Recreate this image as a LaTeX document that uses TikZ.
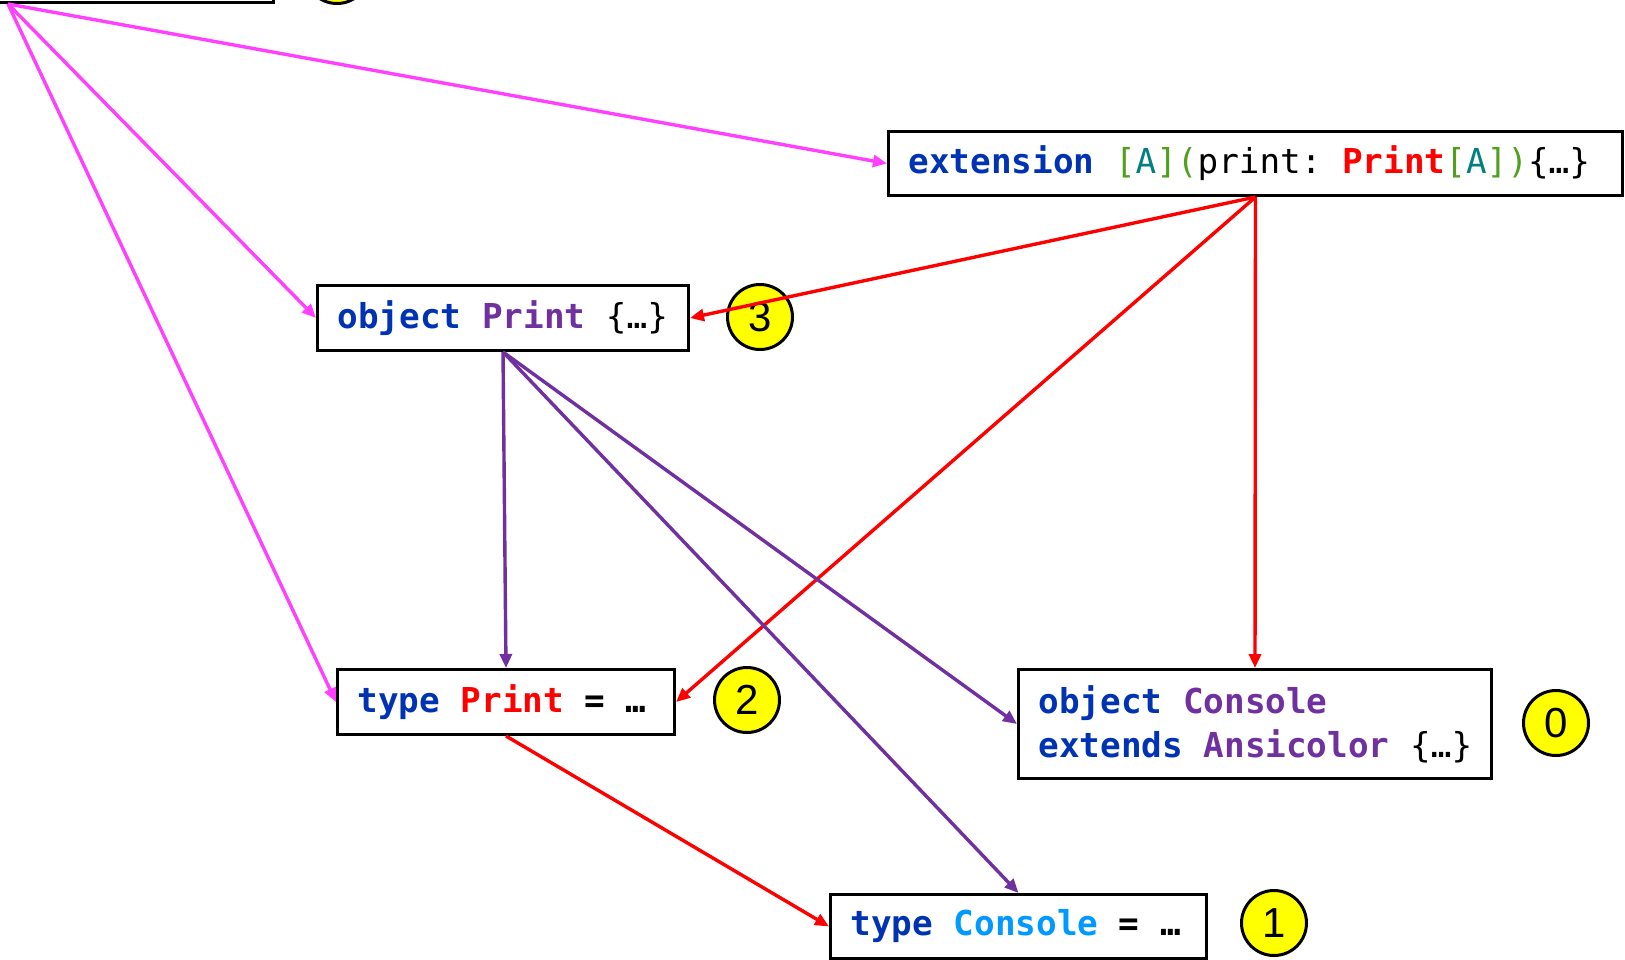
\documentclass[tikz,border=0pt]{standalone}
\usepackage{fontspec}
\usetikzlibrary{arrows.meta}
\newfontfamily\codefont{DejaVu Sans Mono}
\newfontfamily\numfont{Liberation Sans}

\definecolor{kwblue}{RGB}{0,51,179}
\definecolor{objpurple}{RGB}{112,48,160}
\definecolor{tred}{RGB}{255,0,0}
\definecolor{brgreen}{RGB}{80,160,30}
\definecolor{tparam}{RGB}{0,128,128}
\definecolor{conblue}{RGB}{0,153,255}
\definecolor{linkpink}{RGB}{255,64,255}
\definecolor{badge}{RGB}{255,255,0}

\newcommand{\kw}[1]{\textcolor{kwblue}{\bfseries #1}}
\newcommand{\obj}[1]{\textcolor{objpurple}{\bfseries #1}}
\newcommand{\tname}[1]{\textcolor{tred}{\bfseries #1}}
% one monospace cell of blank space
\newcommand{\sk}{\hspace*{0.602em}}

\tikzset{
  codebox/.style={draw, line width=3pt, fill=white, rectangle, anchor=north west,
    inner xsep=20pt, inner ysep=0pt, align=left,
    font=\codefont\fontsize{34.3}{44}\selectfont},
  badgenode/.style={circle, draw, line width=3pt, fill=badge, minimum size=65pt,
    inner sep=0pt, font=\numfont\fontsize{42}{42}\selectfont},
  link/.style={line width=3.4pt, -{Triangle[length=14pt,width=12pt]}},
  pinklink/.style={link, draw=linkpink, fill=linkpink},
  redlink/.style={link, draw=tred, fill=tred},
  purplelink/.style={link, draw=objpurple, fill=objpurple}
}

\begin{document}
\begin{tikzpicture}[x=1pt,y=-1pt]
\useasboundingbox (0,0) rectangle (1625,959);
\clip (0,0) rectangle (1625,959);

% partly visible box and badge above the frame
\node[draw, line width=3pt, fill=white, anchor=south east,
      minimum width=400pt, minimum height=70pt] (src) at (275,4) {};
\node[badgenode] (b4) at (337,-29) {};
\coordinate (srcpt) at (8,4);

% code boxes
\node[codebox, minimum height=64pt, text width=694pt] (ext) at (887,130)
  {\mbox{\kw{extension}\sk\textcolor{brgreen}{[}\textcolor{tparam}{A}\textcolor{brgreen}{](}print:\sk\tname{Print}\textcolor{brgreen}{[}\textcolor{tparam}{A}\textcolor{brgreen}{])}\{…\}}};
\node[codebox, minimum height=65pt, text width=331pt] (op) at (316,284)
  {\mbox{\kw{object}\sk\obj{Print}\sk\{…\}}};
\node[codebox, minimum height=65pt, text width=297pt] (tp) at (336,668)
  {\mbox{\kw{type}\sk\tname{Print}\sk\textbf{=}\sk\textbf{…}}};
\node[codebox, minimum height=109pt, text width=433pt] (oc) at (1017,668)
  {\mbox{\kw{object}\sk\obj{Console}}\\\mbox{\kw{extends}\sk\obj{Ansicolor}\sk\{…\}}};
\node[codebox, minimum height=64pt, text width=336pt] (tc) at (829,893)
  {\mbox{\kw{type}\sk\textcolor{conblue}{\bfseries Console}\sk\textbf{=}\sk\textbf{…}}};

% badges
\node[badgenode] (b3) at (760,317) {3};
\node[badgenode] (b2) at (747,700) {2};
\node[badgenode] (b0) at (1556,723) {0};
\node[badgenode] (b1) at (1274,923) {1};

% connectors
\draw[pinklink] (srcpt) -- (ext.west);
\draw[pinklink] (srcpt) -- (op.west);
\draw[pinklink] (srcpt) -- (tp.west);

\draw[redlink] (ext.south) -- (op.east);
\draw[redlink] (ext.south) -- (tp.east);
\draw[redlink] (ext.south) -- (oc.north);
\draw[redlink] (tp.south) -- (tc.west);

\draw[purplelink] (op.south) -- (tp.north);
\draw[purplelink] (op.south) -- (oc.west);
\draw[purplelink] (op.south) -- (tc.north);
\end{tikzpicture}
\end{document}
